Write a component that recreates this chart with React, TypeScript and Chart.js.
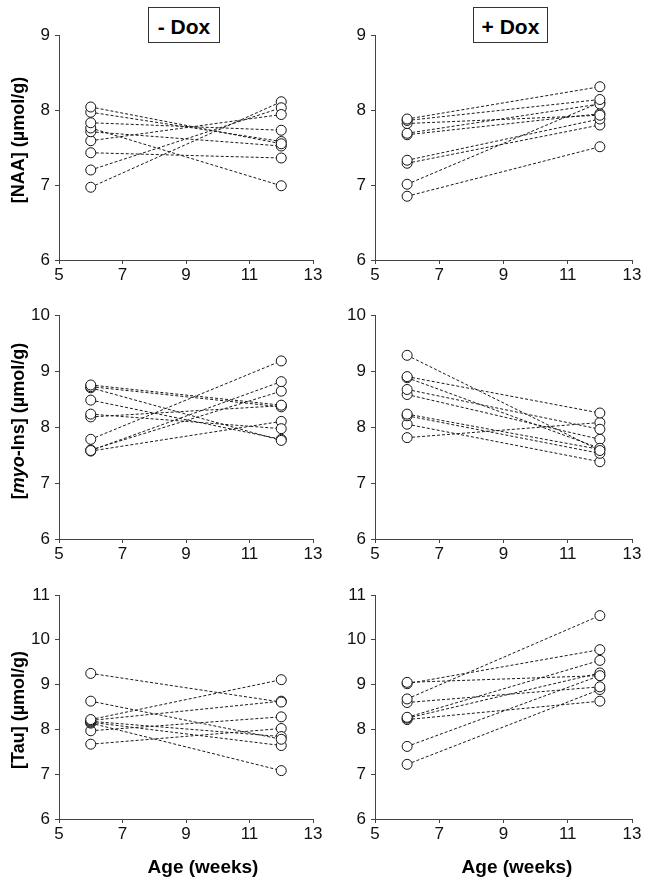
import React, { useEffect, useRef } from "react";
import { Chart, registerables } from "chart.js";

Chart.register(...registerables);

// Ages (weeks) at which each animal was measured
const ages = [6, 12];

// x-axis ticks
const xMin = 5;
const xMax = 13;
const xStep = 2;

// [NAA] (µmol/g), - Dox
const naaMinusDox6 = [8.04, 7.97, 7.83, 7.76, 7.71, 7.59, 7.43, 7.2, 6.97];
const naaMinusDox12 = [7.55, 7.58, 7.73, 6.99, 7.52, 7.94, 7.36, 8.03, 8.11];

// [NAA] (µmol/g), + Dox
const naaPlusDox6 = [7.88, 7.86, 7.82, 7.69, 7.67, 7.33, 7.29, 7.01, 6.85];
const naaPlusDox12 = [8.31, 8.14, 7.93, 8.08, 7.95, 7.88, 7.8, 8.1, 7.51];

// [myo-Ins] (µmol/g), - Dox
const insMinusDox6 = [8.75, 8.72, 8.7, 8.48, 8.23, 8.18, 7.78, 7.58, 7.57, 7.59];
const insMinusDox12 = [8.39, 8.36, 7.76, 7.78, 7.97, 8.38, 9.18, 8.81, 8.1, 8.64];

// [myo-Ins] (µmol/g), + Dox
const insPlusDox6 = [9.28, 8.9, 8.88, 8.67, 8.58, 8.23, 8.2, 8.05, 7.81];
const insPlusDox12 = [7.58, 8.25, 7.62, 7.96, 7.78, 7.6, 7.53, 7.38, 8.08];

// [Tau] (µmol/g), - Dox
const tauMinusDox6 = [9.25, 8.63, 8.22, 8.2, 8.18, 8.16, 8.14, 7.97, 7.67];
const tauMinusDox12 = [8.61, 7.78, 9.11, 8.63, 7.84, 7.64, 7.08, 8.28, 8.02];

// [Tau] (µmol/g), + Dox
const tauPlusDox6 = [9.05, 9.02, 8.68, 8.6, 8.27, 8.25, 8.22, 7.62, 7.22];
const tauPlusDox12 = [9.2, 9.78, 10.54, 8.95, 9.54, 9.26, 8.63, 9.2, 8.89];

// y-axis ranges per row
const yMin = 6;
const yMaxNaa = 9;
const yMaxIns = 10;
const yMaxTau = 11;

const groupTitles = ["- Dox", "+ Dox"];
const xTitle = "Age (weeks)";

const FONT = '"Liberation Sans", Arial, Helvetica, sans-serif';

type PanelProps = {
  left: number;
  top: number;
  width: number;
  height: number;
  yMax: number;
  pre: number[];
  post: number[];
  yAxisWidth: number;
  padRight: number;
  padTop: number;
  xAxisHeight: number;
};

function Panel(p: PanelProps) {
  const ref = useRef<HTMLCanvasElement | null>(null);
  useEffect(() => {
    if (!ref.current) return;
    const datasets = p.pre.map((v, i) => ({
      data: [
        { x: ages[0], y: v },
        { x: ages[1], y: p.post[i] },
      ],
      showLine: true,
      borderColor: "#1a1a1a",
      borderWidth: 1,
      borderDash: [3, 2],
      pointRadius: 5,
      pointBorderWidth: 1,
      pointBorderColor: "#111",
      pointBackgroundColor: "#fff",
      clip: false as any,
    }));
    const tickFont = { family: FONT, size: 17 };
    const chart = new Chart(ref.current, {
      type: "scatter",
      data: { datasets },
      options: {
        animation: false,
        responsive: false,
        events: [],
        layout: { padding: { left: 0, right: p.padRight, top: p.padTop, bottom: 0 } },
        plugins: { legend: { display: false }, tooltip: { enabled: false } },
        scales: {
          x: {
            type: "linear",
            min: xMin,
            max: xMax,
            ticks: { stepSize: xStep, padding: 1, color: "#111", font: tickFont },
            grid: { drawOnChartArea: false, drawTicks: true, tickLength: 4, color: "#444" },
            border: { color: "#444", width: 1 },
            afterFit: (s: any) => {
              s.height = p.xAxisHeight;
            },
          },
          y: {
            type: "linear",
            min: yMin,
            max: p.yMax,
            ticks: { stepSize: 1, padding: 5, color: "#111", font: tickFont },
            grid: { drawOnChartArea: false, drawTicks: true, tickLength: 4, color: "#444" },
            border: { color: "#444", width: 1 },
            afterFit: (s: any) => {
              s.width = p.yAxisWidth;
            },
          },
        },
      } as any,
    });
    return () => chart.destroy();
  }, []);
  return (
    <canvas
      ref={ref}
      width={p.width}
      height={p.height}
      style={{ position: "absolute", left: p.left, top: p.top, width: p.width, height: p.height }}
    />
  );
}

const yTitleStyle = (cy: number): React.CSSProperties => ({
  position: "absolute",
  left: 18,
  top: cy,
  transform: "translate(-50%, -50%) rotate(-90deg)",
  whiteSpace: "nowrap",
  fontFamily: FONT,
  fontWeight: "bold",
  fontSize: 18,
  lineHeight: 1,
  color: "#000",
});

const xTitleStyle = (cx: number): React.CSSProperties => ({
  position: "absolute",
  left: cx,
  top: 866,
  transform: "translate(-50%, -50%)",
  whiteSpace: "nowrap",
  fontFamily: FONT,
  fontWeight: "bold",
  fontSize: 19,
  lineHeight: 1,
  color: "#000",
});

const boxStyle = (left: number, width: number): React.CSSProperties => ({
  position: "absolute",
  left,
  top: 7,
  width,
  height: 36,
  boxSizing: "border-box",
  border: "1px solid #333",
  background: "#fff",
  display: "flex",
  alignItems: "center",
  justifyContent: "center",
  paddingTop: 3,
  fontFamily: FONT,
  fontWeight: "bold",
  fontSize: 21,
  lineHeight: 1,
  color: "#000",
});

export default function App() {
  const col1 = { left: 0, width: 325, yAxisWidth: 59, padRight: 12 };
  const col2 = { left: 325, width: 326, yAxisWidth: 50, padRight: 19 };
  const row1 = { top: 0, height: 295, padTop: 35, xAxisHeight: 35 };
  const row2 = { top: 295, height: 280, padTop: 20, xAxisHeight: 36 };
  const row3 = { top: 575, height: 313, padTop: 20, xAxisHeight: 69 };
  return (
    <div
      style={{
        position: "absolute",
        left: 0,
        top: 0,
        width: 651,
        height: 888,
        background: "#fff",
        overflow: "hidden",
      }}
    >
      <Panel {...col1} {...row1} yMax={yMaxNaa} pre={naaMinusDox6} post={naaMinusDox12} />
      <Panel {...col2} {...row1} yMax={yMaxNaa} pre={naaPlusDox6} post={naaPlusDox12} />
      <Panel {...col1} {...row2} yMax={yMaxIns} pre={insMinusDox6} post={insMinusDox12} />
      <Panel {...col2} {...row2} yMax={yMaxIns} pre={insPlusDox6} post={insPlusDox12} />
      <Panel {...col1} {...row3} yMax={yMaxTau} pre={tauMinusDox6} post={tauMinusDox12} />
      <Panel {...col2} {...row3} yMax={yMaxTau} pre={tauPlusDox6} post={tauPlusDox12} />

      <div style={boxStyle(148, 72)}>{groupTitles[0]}</div>
      <div style={boxStyle(473, 75)}>{groupTitles[1]}</div>

      <div style={yTitleStyle(140)}>[NAA] (µmol/g)</div>
      <div style={yTitleStyle(421)}>
        [<i>myo</i>-Ins] (µmol/g)
      </div>
      <div style={yTitleStyle(710)}>[Tau] (µmol/g)</div>

      <div style={xTitleStyle(203)}>{xTitle}</div>
      <div style={xTitleStyle(517)}>{xTitle}</div>
    </div>
  );
}
